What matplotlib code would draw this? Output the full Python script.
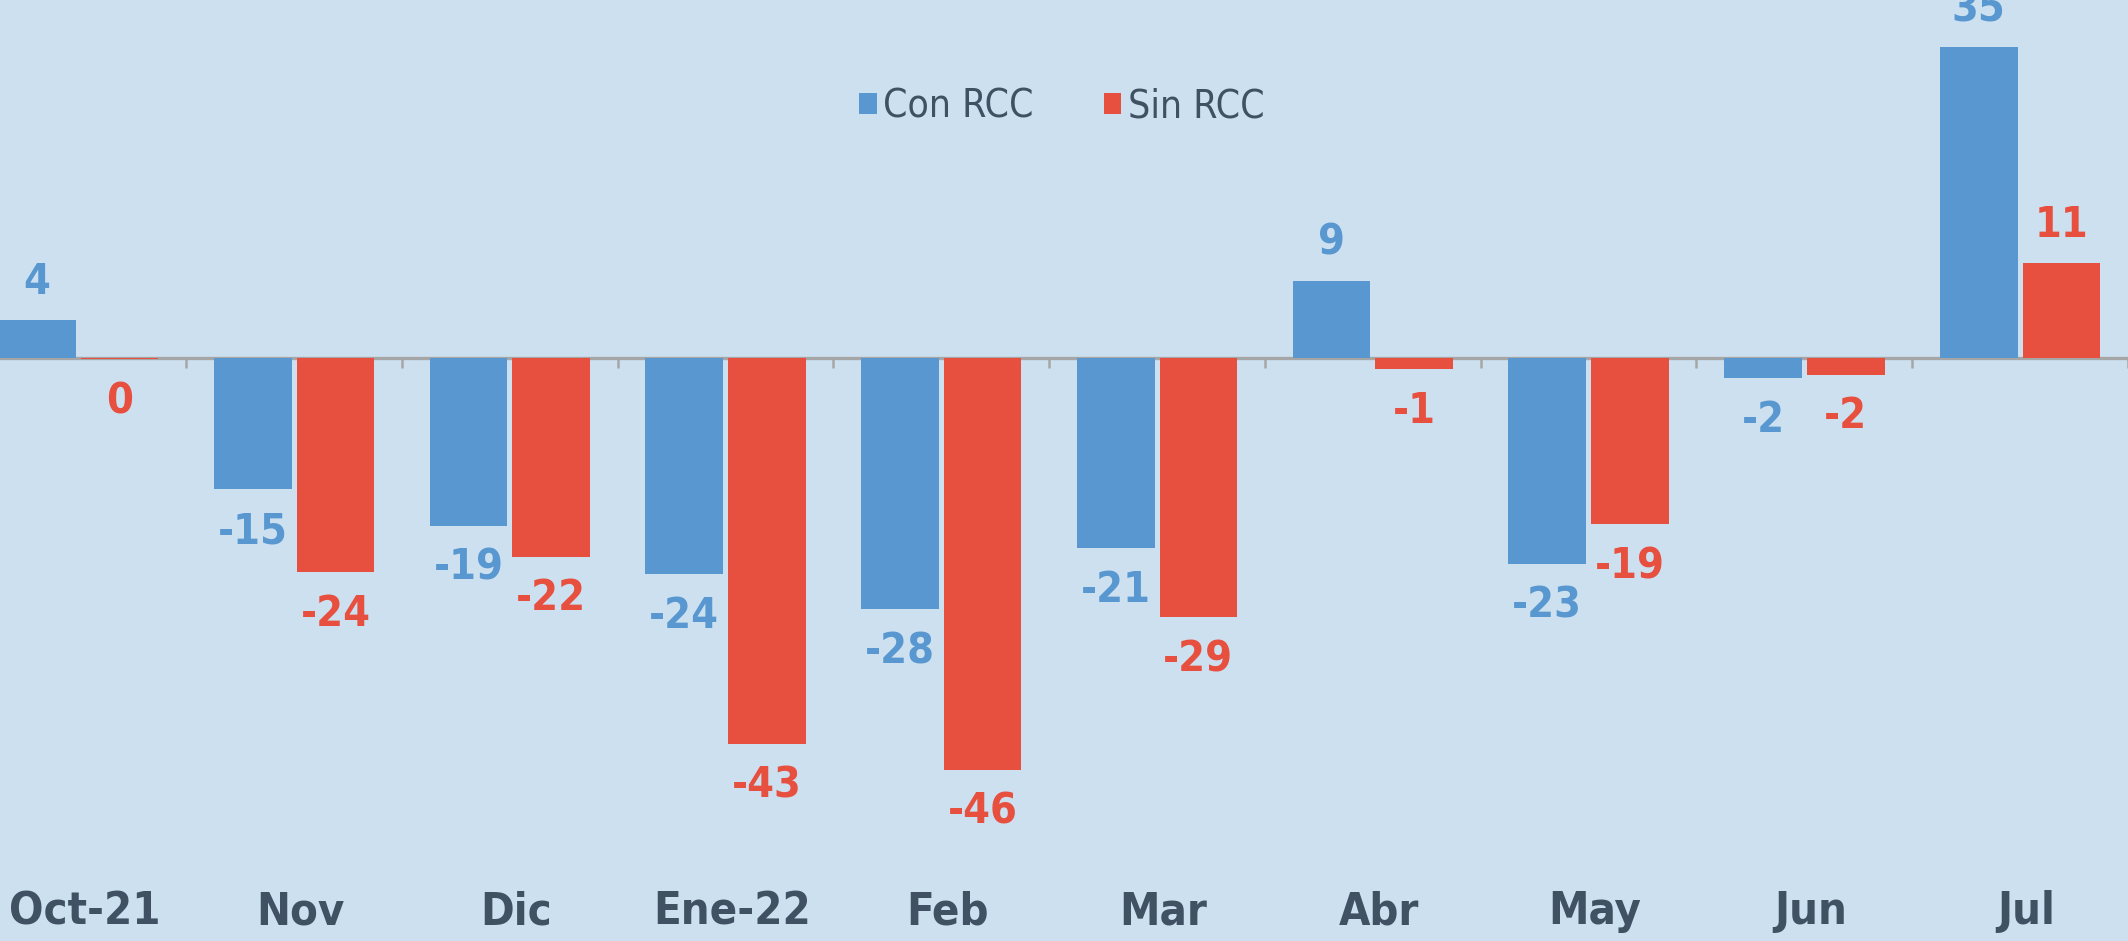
import numpy as np
import matplotlib.pyplot as plt
from matplotlib.transforms import blended_transform_factory

# Data
meses = ['Oct-21', 'Nov', 'Dic', 'Ene-22', 'Feb', 'Mar', 'Abr', 'May', 'Jun', 'Jul']
con_rcc = [4.2, -14.7, -18.8, -24.2, -28.1, -21.3, 8.6, -23.0, -2.3, 34.6]
sin_rcc = [-0.2, -23.9, -22.2, -43.1, -46.0, -29.0, -1.3, -18.6, -1.9, 10.6]

# Style
bg = '#CDE0F0'
c_con = '#5897CF'
c_sin = '#E74F3E'
c_text = '#3F5163'
c_axis = '#A6A6A6'

plt.rcParams['font.family'] = ['DejaVu Sans']
plt.rcParams['font.stretch'] = 'condensed'

fig = plt.figure(figsize=(21.28, 9.41), dpi=100, facecolor=bg)
ax = fig.add_axes([0, 0, 1, 1])
ax.set_facecolor(bg)

x = np.arange(len(meses))
w = 0.36
gap = 0.0115
b1 = ax.bar(x - w / 2 - gap, con_rcc, w, color=c_con, label='Con RCC')
b2 = ax.bar(x + w / 2 + gap, sin_rcc, w, color=c_sin, label='Sin RCC')

ax.set_xlim(-0.363, 9.47)
ax.set_ylim(-65.1, 39.9)

# value labels
for bars, vals, col in [(b1, con_rcc, c_con), (b2, sin_rcc, c_sin)]:
    for rect, v in zip(bars, vals):
        xc = rect.get_x() + rect.get_width() / 2
        off = 12 if v >= 0 else -15
        ax.annotate(f'{round(v):d}', (xc, v), xytext=(0, off),
                    textcoords='offset points', ha='center',
                    va='bottom' if v >= 0 else 'top',
                    fontsize=31, fontweight='bold', color=col)

# zero line with ticks between categories
for s in ['top', 'right', 'left']:
    ax.spines[s].set_visible(False)
ax.spines['bottom'].set_position(('data', 0))
ax.spines['bottom'].set_color(c_axis)
ax.spines['bottom'].set_linewidth(2.4)
ax.spines['bottom'].set_zorder(0.5)
ax.set_xticks(x + 0.5)
ax.set_xticklabels([])
ax.tick_params(axis='x', direction='out', length=7, width=1.8, color=c_axis)
ax.set_yticks([])

# category labels along the bottom
trans = blended_transform_factory(ax.transData, ax.transAxes)
for xi, m in zip(x, meses):
    ax.text(xi + 0.03, 0.031, m, transform=trans, ha='center', va='center',
            fontsize=32.5, fontweight='bold', color=c_text)

leg = ax.legend(loc='center', bbox_to_anchor=(0.499, 0.887), ncol=2,
                frameon=False, fontsize=28, handlelength=0.45, handleheight=0.45,
                handletextpad=0.17, columnspacing=1.8)
for t in leg.get_texts():
    t.set_color(c_text)

fig.savefig('out.png', dpi=100, facecolor=bg)
